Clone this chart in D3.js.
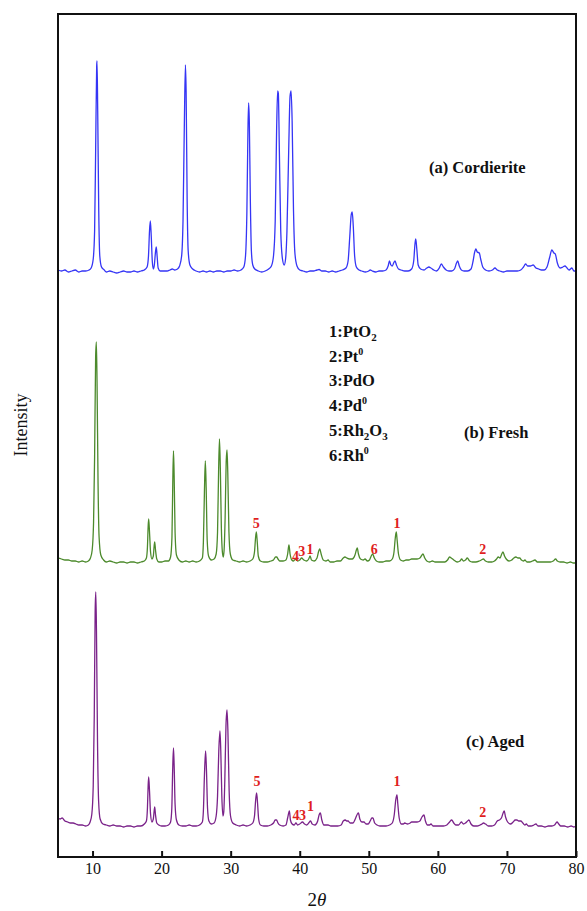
<!DOCTYPE html>
<html><head><meta charset="utf-8">
<script src="https://cdn.jsdelivr.net/npm/d3@7/dist/d3.min.js"></script>
<style>html,body{margin:0;padding:0;background:#fff;}</style>
</head><body>
<script>
// ---- data (2θ, intensity a.u. above each pattern's own baseline) ----
const cordierite = [
[5.0,1],[5.5,0],[6.0,1],[6.5,-1],[7.0,0],[7.5,1],[8.0,-1],[8.5,0],[9.0,0],[9.5,1],
[9.8,3],[10.1,12],[10.3,40],[10.45,120],[10.6,205],[10.65,210],[10.75,160],[10.9,60],[11.05,15],[11.3,4],[11.7,1],
[12.0,-1],[12.5,0],[13,-1],[13.5,-2],[14,-1],[14.5,0],[15,-1],[15.5,-1],[16,0],[16.5,-1],[17,0],[17.5,1],
[17.9,4],[18.1,15],[18.25,40],[18.37,50],[18.5,35],[18.65,10],[18.8,2],[18.95,6],[19.1,18],[19.23,24],[19.35,15],[19.5,3],[19.8,0],
[20.3,0],[20.8,0],[21.2,1],[21.55,2],[21.9,1],[22.3,2],[22.6,5],[22.9,15],[23.1,50],[23.3,150],[23.45,206],[23.55,180],[23.7,70],[23.85,20],[24.1,6],[24.5,2],[25,0],
[25.5,-1],[26,0],[26.5,-1],[27,0],[27.5,-1],[28,0],[28.5,0],[29,-1],[29.5,0],[30,0],[30.5,1],[31,0],[31.5,1],
[31.9,4],[32.15,15],[32.35,60],[32.5,140],[32.6,168],[32.7,150],[32.85,70],[33.0,20],[33.2,6],[33.5,2],[34,0],[34.5,-1],[35,0],[35.5,2],
[35.9,5],[36.2,15],[36.45,50],[36.65,140],[36.8,180],[36.9,178],[37.05,120],[37.25,40],[37.5,12],[37.75,6],
[37.95,12],[38.15,40],[38.4,120],[38.6,175],[38.75,180],[38.9,150],[39.1,60],[39.3,18],[39.6,5],[40,1],[40.5,0],
[41,-1],[41.5,0],[42,0],[42.5,1],[42.8,1.5],[43.2,0],[43.7,0],[44.2,-1],[44.7,0],[45.2,-1],[45.7,0],[46.2,1],
[46.7,3],[47.0,10],[47.25,35],[47.45,56],[47.6,59],[47.75,45],[47.95,15],[48.2,4],[48.6,1],[49.0,0],[49.5,-1],[50.0,0],[50.2,1],[50.5,0],
[51,-1],[51.5,0],[52,0],[52.5,1],[52.8,5],[53.0,10],[53.2,6],[53.4,5],[53.6,8],[53.8,10],[54.0,6],[54.3,2],[54.7,1],[55.2,0],[55.7,0],
[56.2,2],[56.5,10],[56.7,28],[56.8,32],[56.95,22],[57.15,6],[57.5,2],[58.0,1],[58.4,3],[58.7,4],[59.0,3],[59.4,1],[59.8,0],
[60.2,3],[60.5,7],[60.8,4],[61.2,1],[61.6,0],[62.0,0],[62.4,2],[62.7,8],[62.87,10],[63.1,5],[63.4,1],[63.8,0],[64.3,0],
[64.8,2],[65.1,10],[65.3,18],[65.5,22],[65.7,19],[66.0,18],[66.2,12],[66.5,4],[66.9,1],[67.4,0],[67.9,1],[68.27,3],[68.6,1],
[69,0],[69.5,-1],[70,0],[70.5,0],[71,0],[71.5,0],[72,1],[72.4,4],[72.7,7],[73.0,5],[73.4,5],[73.8,6],[74.2,3],[74.6,2],[75,1],[75.4,1],
[75.8,4],[76.2,14],[76.5,21],[76.8,18],[77.0,17],[77.3,8],[77.7,3],[78.1,4],[78.4,5],[78.7,3],[79.0,1],[79.4,3],[79.7,0],[80,0]
];
const fresh = [
[5.0,4],[5.5,3],[6.0,2],[6.5,2],[7.0,1],[7.5,1],[8.0,0],[8.5,1],[9.0,0],[9.4,1],[9.7,4],[9.95,12],[10.15,40],[10.3,105],[10.45,205],[10.55,220],[10.65,182],[10.8,78],[10.95,25],[11.2,7],[11.6,2],
[12.0,0],[12.5,1],[13.0,0],[13.5,-1],[14.0,0],[14.5,0],[15.0,-1],[15.5,0],[16.0,0],[16.5,-1],[17.0,0],[17.5,1],
[17.8,4],[17.95,15],[18.05,35],[18.13,43],[18.25,30],[18.4,10],[18.6,3],[18.8,6],[18.92,16],[19.0,20],[19.12,12],[19.3,3],[19.6,0],
[20.0,0],[20.5,1],[21.0,1],[21.3,5],[21.5,25],[21.62,80],[21.72,111],[21.82,85],[21.95,30],[22.15,7],[22.5,2],[23.0,0],[23.5,1],[24.0,0],[24.5,1],[25.0,0],[25.5,1],
[25.9,4],[26.05,20],[26.2,70],[26.33,101],[26.45,75],[26.6,22],[26.8,6],[27.2,2],[27.6,3],
[27.9,8],[28.1,30],[28.25,90],[28.38,123],[28.5,95],[28.65,35],[28.8,10],[28.93,5],[29.05,12],[29.2,45],[29.35,100],[29.47,112],[29.58,90],[29.75,30],[29.95,8],
[30.3,2],[30.8,1],[31.3,0],[31.8,1],[32.3,0],[32.8,1],[33.2,3],[33.45,10],[33.6,24],[33.72,30],[33.85,20],[34.0,6],[34.3,1],[34.8,0],[35.3,0],[35.8,1],
[36.2,2],[36.5,5],[36.66,5],[36.85,3],[37.1,1],[37.6,1],[38.0,2],[38.25,8],[38.44,17],[38.6,8],[38.85,2],[39.1,1],[39.4,3],[39.7,1],[40.0,2],[40.27,4],[40.6,2],
[41.0,1],[41.3,3],[41.5,6],[41.7,2],[42.1,1],[42.5,4],[42.75,11],[42.9,13],[43.1,8],[43.4,2],[43.8,1],[44.1,2],[44.4,0],[44.9,0],[45.4,1],[45.9,1],
[46.3,4],[46.55,5],[46.8,4],[47.2,3],[47.6,3],[48.0,7],[48.2,12],[48.33,14],[48.5,8],[48.8,3],[49.2,2],[49.45,3],[49.8,1],[50.1,2],[50.35,6],[50.56,8],[50.8,4],[51.1,1],
[51.5,0],[52.0,0],[52.5,1],[53.0,1],[53.4,3],[53.65,10],[53.85,25],[53.98,30],[54.1,22],[54.3,8],[54.6,2],[55.0,1],[55.4,2],[55.8,2],[56.2,3],[56.6,3],[57.0,3],
[57.4,4],[57.7,7],[57.85,8],[58.1,4],[58.4,1],[58.8,0],[59.2,1],[59.6,0],[60.0,0],[60.5,0],[61.0,0],[61.4,2],[61.7,5],[61.95,4],[62.3,2],[62.8,0],
[63.2,1],[63.44,3],[63.7,1],[64.0,2],[64.26,4],[64.6,1],[65.0,0],[65.5,0],[66.0,1],[66.3,2],[66.58,3],[66.9,1],[67.3,0],[67.8,0],
[68.2,1],[68.5,3],[68.75,5],[69.0,4],[69.25,8],[69.43,10],[69.65,6],[69.9,3],[70.3,1],[70.7,2],[71.0,4],[71.3,5],[71.6,4],[71.85,4],[72.1,2],[72.4,1],[72.6,2],[72.9,0],
[73.3,0],[73.7,1],[74.06,2],[74.4,0],[74.9,0],[75.4,0],[75.9,0],[76.3,0],[76.7,1],[77.05,3],[77.3,1],[77.7,0],[78.2,0],[78.7,-1],[79.2,0],[79.6,-1],[80.0,-1]
];
const aged = [
[5.0,8],[5.3,7],[5.6,8],[6.0,5],[6.4,4],[6.8,3],[7.2,3],[7.6,2],[8.0,1],[8.5,1],[9.0,0],[9.4,1],[9.65,4],[9.9,12],[10.1,40],[10.25,110],[10.38,215],[10.47,234],[10.57,195],[10.72,85],[10.88,25],[11.1,7],[11.5,2],
[12.0,1],[12.5,0],[13.0,1],[13.5,0],[14.0,0],[14.5,-1],[15.0,0],[15.5,0],[16.0,-1],[16.5,0],[17.0,0],[17.5,2],
[17.8,5],[17.95,18],[18.05,40],[18.13,49],[18.25,35],[18.4,12],[18.6,4],[18.8,7],[18.92,15],[19.0,19],[19.12,11],[19.3,3],[19.6,1],
[20.0,0],[20.5,0],[21.0,1],[21.3,4],[21.48,18],[21.6,55],[21.72,78],[21.82,60],[21.95,22],[22.15,6],[22.5,1],[23.0,0],[23.5,0],[24.0,1],[24.5,0],[25.0,0],[25.5,1],
[25.9,4],[26.05,15],[26.2,50],[26.37,75],[26.5,55],[26.65,18],[26.85,5],[27.2,2],[27.6,3],
[27.9,10],[28.1,30],[28.28,75],[28.45,95],[28.57,75],[28.72,30],[28.88,10],[29.0,14],[29.15,45],[29.32,100],[29.47,116],[29.6,95],[29.78,35],[29.98,10],
[30.3,3],[30.8,1],[31.3,0],[31.8,1],[32.3,0],[32.8,1],[33.2,3],[33.45,10],[33.62,26],[33.76,33],[33.9,22],[34.05,7],[34.3,1],[34.8,0],[35.3,0],[35.8,1],
[36.2,3],[36.45,6],[36.64,6],[36.85,3],[37.1,1],[37.6,0],[38.0,1],[38.25,8],[38.5,15],[38.65,6],[38.9,2],[39.2,1],[39.45,3],[39.7,1],[40.0,2],[40.4,4],[40.7,2],
[41.0,1],[41.3,3],[41.57,5],[41.8,2],[42.2,1],[42.6,5],[42.8,11],[42.98,13],[43.2,6],[43.5,1],[43.8,1],[44.1,1],[44.5,0],[45.0,0],[45.5,0],[46.0,1],
[46.3,5],[46.6,6],[46.8,5],[47.0,5],[47.3,3],[47.7,3],[48.1,8],[48.35,12],[48.5,13],[48.7,7],[49.0,4],[49.3,4],[49.6,2],[49.9,2],[50.2,5],[50.45,8],[50.6,8],[50.85,3],[51.2,1],
[51.6,0],[52.0,0],[52.5,0],[53.0,1],[53.4,3],[53.7,12],[53.9,26],[54.08,31],[54.2,22],[54.4,8],[54.7,2],[55.0,2],[55.2,3],[55.6,2],[56.0,3],[56.2,4],[56.6,4],[57.0,4],
[57.4,5],[57.7,9],[57.99,11],[58.2,5],[58.5,1],[58.8,1],[59.0,2],[59.3,0],[59.8,0],[60.3,0],[60.8,0],[61.3,1],[61.7,4],[62.0,6],[62.3,3],[62.6,1],
[63.0,1],[63.4,4],[63.7,2],[64.0,3],[64.3,5],[64.5,6],[64.8,2],[65.2,0],[65.7,0],[66.1,1],[66.4,2],[66.6,3],[66.9,2],[67.3,0],[67.8,0],
[68.2,1],[68.6,5],[68.9,6],[69.2,8],[69.45,13],[69.6,15],[69.8,9],[70.1,4],[70.5,2],[70.9,4],[71.2,6],[71.45,6],[71.7,5],[72.0,5],[72.3,3],[72.6,1],[72.8,2],[73.1,0],
[73.5,0],[73.9,1],[74.2,2],[74.5,0],[75.0,0],[75.5,-1],[76.0,0],[76.5,0],[76.9,1],[77.25,4],[77.5,2],[77.8,0],[78.3,0],[78.8,-1],[79.3,0],[79.7,-1],[80.0,0]
];
const seriesNames = ["(a) Cordierite", "(b) Fresh", "(c) Aged"];
const seriesOffsets = [586, 295, 31];           // vertical stacking offsets (a.u.)
const xTicks = [10, 20, 30, 40, 50, 60, 70, 80];
// phase labels: [text, 2θ, level above baseline (a.u.)]
const freshMarks = [["5",33.7,39],["4",39.4,6],["3",40.3,11],["1",41.5,13],["6",50.8,13],["1",54.1,39],["2",66.5,13]];
const agedMarks  = [["5",33.8,45],["4",39.45,11],["3",40.4,11],["1",41.55,20],["1",54.1,45],["2",66.5,14]];
// legend entries: parts with mode n (normal), sub, sup
const legendItems = [
  [["1:PtO","n"],["2","sub"]],
  [["2:Pt","n"],["0","sup"]],
  [["3:PdO","n"]],
  [["4:Pd","n"],["0","sup"]],
  [["5:Rh","n"],["2","sub"],["O","n"],["3","sub"]],
  [["6:Rh","n"],["0","sup"]]
];

// ---- drawing ----
const W = 587, H = 911;
const m = {left: 58, right: 576, top: 14, bottom: 857};
const serif = "'Liberation Serif','Times New Roman',serif";
const colors = ["#3535f5", "#4c8a2c", "#7a2289"];

const svg = d3.select("body").append("svg").attr("width", W).attr("height", H)
  .style("background", "#fff");

const x = d3.scaleLinear().domain([5, 80]).range([m.left, m.right]);
const y = d3.scaleLinear().domain([0, 843]).range([m.bottom, m.top]);

const seriesData = [cordierite, fresh, aged];
seriesData.forEach((data, i) => {
  const line = d3.line()
    .x(d => x(d[0]))
    .y(d => y(d[1] + seriesOffsets[i]))
    .curve(d3.curveMonotoneX);
  svg.append("path").datum(data)
    .attr("fill", "none").attr("stroke", colors[i])
    .attr("stroke-width", 1.3).attr("stroke-linejoin", "round")
    .attr("d", line);
});

// frame
svg.append("rect").attr("x", m.left).attr("y", m.top)
  .attr("width", m.right - m.left).attr("height", m.bottom - m.top)
  .attr("fill", "none").attr("stroke", "#111").attr("stroke-width", 2);

// x axis
const ax = svg.append("g").attr("transform", `translate(0,${m.bottom})`)
  .call(d3.axisBottom(x).tickValues(xTicks).tickSizeInner(-6).tickSizeOuter(0).tickPadding(6));
ax.select(".domain").remove();
ax.selectAll(".tick line").attr("stroke", "#111").attr("stroke-width", 2).attr("y2", -6);
ax.selectAll(".tick text").attr("font-family", serif).attr("font-size", 16).attr("fill", "#111")
  .attr("y", 6);

// axis titles
const xt = svg.append("text").attr("x", (m.left + m.right) / 2).attr("y", 906)
  .attr("text-anchor", "middle").attr("font-family", serif).attr("font-size", 19).attr("fill", "#111");
xt.append("tspan").text("2");
xt.append("tspan").attr("font-style", "italic").text("θ");

svg.append("text").attr("transform", "translate(27,425) rotate(-90)")
  .attr("text-anchor", "middle").attr("font-family", serif).attr("font-size", 18).attr("fill", "#111")
  .text("Intensity");

// series titles
const titlePos = [[429, 173], [464, 438], [466, 747]];
seriesNames.forEach((t, i) => {
  svg.append("text").attr("x", titlePos[i][0]).attr("y", titlePos[i][1])
    .attr("font-family", serif).attr("font-weight", "bold").attr("font-size", 16.5).attr("fill", "#111")
    .text(t);
});

// legend
legendItems.forEach((parts, i) => {
  const t = svg.append("text").attr("x", 329).attr("y", 337 + i * 24.7)
    .attr("font-family", serif).attr("font-weight", "bold").attr("font-size", 16.5).attr("fill", "#111");
  let acc = 0;
  parts.forEach(([s, mode]) => {
    const sh = mode === "sub" ? 4 : mode === "sup" ? -7 : 0;
    const sp = t.append("tspan").text(s).attr("dy", sh - acc);
    if (mode === "sub") sp.attr("font-size", 11);
    if (mode === "sup") sp.attr("font-size", 10);
    acc = sh;
  });
});

// phase markers
function drawMarks(marks, off) {
  marks.forEach(([s, tt, lvl]) => {
    svg.append("text").attr("x", x(tt)).attr("y", y(lvl + off) + 5)
      .attr("text-anchor", "middle").attr("font-family", serif).attr("font-weight", "bold")
      .attr("font-size", 14).attr("fill", "#e01e1e").text(s);
  });
}
drawMarks(freshMarks, seriesOffsets[1]);
drawMarks(agedMarks, seriesOffsets[2]);
</script>
</body></html>
